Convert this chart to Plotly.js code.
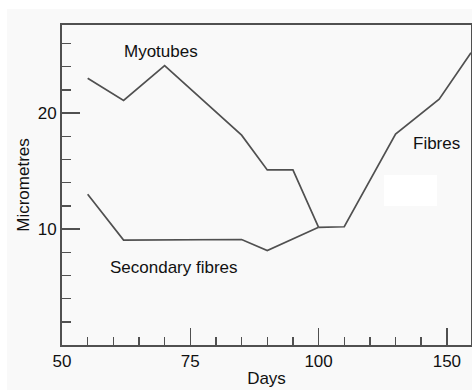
<!DOCTYPE html>
<html>
<head>
<meta charset="utf-8">
<script src="https://cdn.plot.ly/plotly-3.0.1.min.js"></script>
<style>html,body{margin:0;padding:0;background:#fff;}#chart{width:472px;height:390px;}</style>
</head>
<body>
<div id="chart"></div>
<script>
// Data (days, micrometres)
var myotubeDays   = [55, 62, 70, 85, 90, 95, 100];
var myotubeValues = [23.0, 21.1, 24.1, 18.1, 15.1, 15.1, 10.15];
var fibreDays     = [100, 110, 130, 147, 159.4];
var fibreValues   = [10.15, 10.2, 18.2, 21.2, 25.2];
var secondaryDays   = [55, 62, 85, 90, 100];
var secondaryValues = [13.0, 9.05, 9.1, 8.15, 10.15];

var xTickDays   = [50, 75, 100, 150];
var xTickLabels = ['50', '75', '100', '150'];
var xMinorDays  = [55, 60, 65, 70, 80, 85, 90, 95, 110, 120, 130, 140];
var yTickVals   = [10, 20];
var yTickLabels = ['10', '20'];
var yMinorVals  = [2, 4, 6, 8, 12, 14, 16, 18, 22, 24, 26];

// The original day axis is compressed by half beyond day 100
function pos(d) { return d <= 100 ? d : 100 + (d - 100) * 0.5; }
function mapAll(a) { return a.map(pos); }

var lineStyle = {color: '#505050', width: 1.7};
var traces = [
  {x: mapAll(myotubeDays), y: myotubeValues, mode: 'lines', line: lineStyle, name: 'Myotubes', hoverinfo: 'skip'},
  {x: mapAll(fibreDays), y: fibreValues, mode: 'lines', line: lineStyle, name: 'Fibres', hoverinfo: 'skip'},
  {x: mapAll(secondaryDays), y: secondaryValues, mode: 'lines', line: lineStyle, name: 'Secondary fibres', hoverinfo: 'skip'}
];

var font = {family: 'Liberation Sans, Arial, sans-serif', size: 17, color: '#111'};
var layout = {
  width: 472, height: 390,
  margin: {l: 62, r: 1, t: 25, b: 45},
  paper_bgcolor: '#f9f9f9',
  plot_bgcolor: '#f9f9f9',
  showlegend: false,
  font: font,
  xaxis: {
    range: [50, pos(159.4)],
    tickmode: 'array', tickvals: mapAll(xTickDays), ticktext: xTickLabels,
    ticks: 'inside', ticklen: 17, tickwidth: 1.5, tickcolor: '#505050',
    minor: {tickmode: 'array', tickvals: mapAll(xMinorDays), ticks: 'inside', ticklen: 8, tickwidth: 1.5, tickcolor: '#505050', showgrid: false},
    showgrid: false, zeroline: false,
    showline: true, mirror: true, linecolor: '#505050', linewidth: 2,
    tickfont: font,
    title: {text: 'Days', font: font, standoff: 2}
  },
  yaxis: {
    range: [0, 27.6],
    tickmode: 'array', tickvals: yTickVals, ticktext: yTickLabels,
    ticks: 'inside', ticklen: 18, tickwidth: 1.5, tickcolor: '#505050',
    minor: {tickmode: 'array', tickvals: yMinorVals, ticks: 'inside', ticklen: 9, tickwidth: 1.5, tickcolor: '#505050', showgrid: false},
    showgrid: false, zeroline: false,
    showline: true, mirror: true, linecolor: '#505050', linewidth: 2,
    tickfont: font,
    title: {text: 'Micrometres', font: font, standoff: 4}
  },
  annotations: [
    {text: 'Myotubes', x: 69.3, y: 25.3, xref: 'x', yref: 'y', showarrow: false, font: font},
    {text: 'Fibres', x: 122.9, y: 17.4, xref: 'x', yref: 'y', showarrow: false, font: font},
    {text: 'Secondary fibres', x: 71.8, y: 6.72, xref: 'x', yref: 'y', showarrow: false, font: font}
  ],
  shapes: [
    {type: 'rect', xref: 'paper', yref: 'paper', x0: 0.787, x1: 0.917, y0: 0.434, y1: 0.531, fillcolor: '#ffffff', line: {width: 0}},
    {type: 'rect', xref: 'paper', yref: 'paper', x0: -0.16, x1: 1.01, y0: 1.05, y1: 1.1, fillcolor: '#ffffff', line: {width: 0}, layer: 'below'},
    {type: 'rect', xref: 'paper', yref: 'paper', x0: -0.16, x1: -0.1345, y0: -0.2, y1: 1.1, fillcolor: '#ffffff', line: {width: 0}, layer: 'below'}
  ]
};

Plotly.newPlot('chart', traces, layout, {displayModeBar: false, staticPlot: true});
</script>
</body>
</html>
